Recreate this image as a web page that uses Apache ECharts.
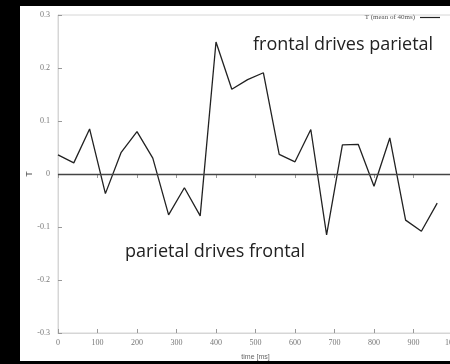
<!DOCTYPE html>
<html>
<head>
<meta charset="utf-8">
<script src="https://cdn.jsdelivr.net/npm/echarts@6/dist/echarts.min.js"></script>
<style>
html,body{margin:0;padding:0;background:#000;}
#c{width:450px;height:364px;}
</style>
</head>
<body>
<div id="c"></div>
<script>
var timesMs = [0,40,80,120,160,200,240,280,320,360,400,440,480,520,560,600,640,680,720,760,800,840,880,920,960];
var tValues = [0.036,0.021,0.085,-0.037,0.041,0.080,0.030,-0.077,-0.026,-0.079,0.249,0.160,0.178,0.191,0.037,0.023,0.084,-0.115,0.055,0.056,-0.023,0.068,-0.087,-0.108,-0.055];
var seriesName = 'T (mean of 40ms)';
var annotationTop = 'frontal drives parietal';
var annotationBottom = 'parietal drives frontal';

var chart = echarts.init(document.getElementById('c'), null, {renderer:'canvas'});
var gray = '#d6d6d6';
var labelColor = '#777';
chart.setOption({
  backgroundColor: '#000',
  animation: false,
  graphic: [
    {type:'rect', z:-10, shape:{x:20,y:6,width:430,height:355}, style:{fill:'#fff'}},
    {type:'text', z:10, left:253, top:36, style:{text:annotationTop, font:'18px "Open Sans"', fill:'#222'}},
    {type:'text', z:10, left:125, top:243, style:{text:annotationBottom, font:'18px "Open Sans"', fill:'#222'}}
  ],
  grid: {left:58, top:15, right:-3, bottom:31, show:true, borderColor:gray, borderWidth:1, containLabel:false, outerBoundsMode:'none'},
  legend: {
    right: 5, top: 9, icon:'rect', itemWidth:20, itemHeight:1.2, align:'right',
    textStyle:{fontSize:7, color:'#555', fontFamily:'Liberation Serif'},
    data:[seriesName]
  },
  xAxis: [{
    type:'value', min:0, max:1000, interval:100,
    name:'time [ms]', nameLocation:'middle', nameGap:21, nameMoveOverlap:false,
    nameTextStyle:{fontSize:7, color:'#666', fontFamily:'Liberation Sans'},
    axisLine:{show:true, onZero:false, lineStyle:{color:gray}},
    axisTick:{show:true, inside:true, length:4, lineStyle:{color:'#999'}},
    axisLabel:{fontSize:8, color:labelColor, margin:6, fontFamily:'Liberation Serif', formatter:function(v){return String(v);}},
    splitLine:{show:false}
  },{
    type:'value', position:'top', min:0, max:1000, interval:100,
    axisLine:{show:true, lineStyle:{color:gray}},
    axisTick:{show:true, inside:true, length:4, lineStyle:{color:'#999'}},
    axisLabel:{show:false}, splitLine:{show:false}
  }],
  yAxis: {
    type:'value', min:-0.3, max:0.3, interval:0.1,
    name:'T', nameLocation:'middle', nameGap:24, nameRotate:90, nameMoveOverlap:false,
    nameTextStyle:{fontSize:9, color:'#555', fontFamily:'Liberation Sans'},
    axisLine:{show:true, onZero:false, lineStyle:{color:gray}},
    axisTick:{show:true, inside:true, length:4, lineStyle:{color:'#999'}},
    axisLabel:{fontSize:8, color:labelColor, margin:8, fontFamily:'Liberation Serif'},
    splitLine:{show:false}
  },
  series: [{
    name: seriesName, type:'line',
    data: timesMs.map(function(t,i){return [t, tValues[i]];}),
    symbol:'none', lineStyle:{color:'#222', width:1.3}, itemStyle:{color:'#222'},
    markLine:{
      silent:true, symbol:'none', label:{show:false},
      lineStyle:{color:'#444', width:1.3, type:'solid'},
      data:[{yAxis:0}]
    }
  }]
});
</script>
</body>
</html>
